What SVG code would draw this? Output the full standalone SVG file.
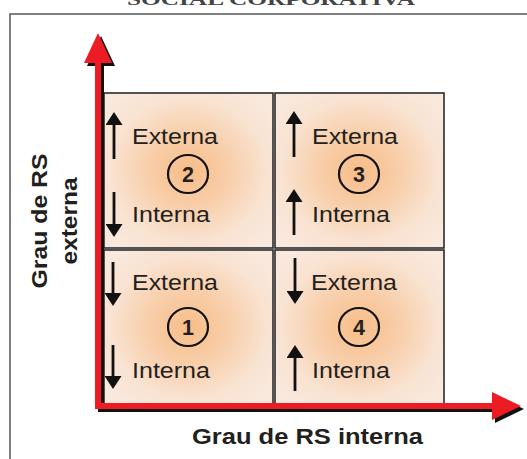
<svg xmlns="http://www.w3.org/2000/svg" width="527" height="459" viewBox="0 0 527 459">
<defs>
<radialGradient id="glow" cx="50%" cy="50%" r="62%">
<stop offset="0%" stop-color="#f7bd88"/>
<stop offset="40%" stop-color="#f8cfab"/>
<stop offset="75%" stop-color="#f9e3d2"/>
<stop offset="100%" stop-color="#f9e8dc"/>
</radialGradient>
<marker id="ah" viewBox="0 0 13 17" refX="6" refY="8.5" markerWidth="13" markerHeight="17" markerUnits="userSpaceOnUse" orient="auto">
<path d="M0,0 L13,8.5 L0,17 z" fill="#111"/>
</marker>
</defs>
<style>
.box{fill:url(#glow);stroke:#2b2b2b;stroke-width:1.6}
.lbl{font-family:"Liberation Sans",Arial,sans-serif;font-size:22.5px;fill:#231f20}
.num{font-family:"Liberation Sans",Arial,sans-serif;font-size:21.5px;font-weight:bold;fill:#231f20;text-anchor:middle}
.ring{fill:none;stroke:#111;stroke-width:2.2}
.arr{stroke:#111;stroke-width:2.8;marker-end:url(#ah)}
.axis{font-family:"Liberation Sans",Arial,sans-serif;font-size:22px;font-weight:bold;fill:#231f20}
</style>
<rect width="527" height="459" fill="#ffffff"/>
<text x="127" y="4.5" font-family="'Liberation Serif',serif" font-size="16" font-weight="bold" fill="#444" textLength="288" lengthAdjust="spacingAndGlyphs">SOCIAL CORPORATIVA</text>
<rect x="10" y="14" width="540" height="470" fill="none" stroke="#555" stroke-width="1.5"/>

<g id="q2">
<rect class="box" x="104" y="93" width="169" height="155"/>
<line class="arr" x1="114" y1="159" x2="114" y2="119"/>
<text class="lbl" x="132" y="144" textLength="86" lengthAdjust="spacingAndGlyphs">Externa</text>
<ellipse class="ring" cx="188" cy="174" rx="20" ry="19"/>
<text class="num" x="188" y="181.5">2</text>
<line class="arr" x1="114" y1="192" x2="114" y2="230"/>
<text class="lbl" x="132" y="222" textLength="78" lengthAdjust="spacingAndGlyphs">Interna</text>
</g>

<g id="q3">
<rect class="box" x="275" y="93" width="169" height="155"/>
<line class="arr" x1="294" y1="157" x2="294" y2="118"/>
<text class="lbl" x="312" y="144" textLength="86" lengthAdjust="spacingAndGlyphs">Externa</text>
<ellipse class="ring" cx="359" cy="174" rx="20" ry="19"/>
<text class="num" x="359" y="181.5">3</text>
<line class="arr" x1="294" y1="235" x2="294" y2="196"/>
<text class="lbl" x="312" y="222" textLength="78" lengthAdjust="spacingAndGlyphs">Interna</text>
</g>

<g id="q1">
<rect class="box" x="104" y="250" width="169" height="154"/>
<line class="arr" x1="113" y1="262" x2="113" y2="299"/>
<text class="lbl" x="132" y="290" textLength="86" lengthAdjust="spacingAndGlyphs">Externa</text>
<ellipse class="ring" cx="188" cy="327" rx="20" ry="19"/>
<text class="num" x="188" y="334.5">1</text>
<line class="arr" x1="113" y1="345" x2="113" y2="382"/>
<text class="lbl" x="132" y="378" textLength="78" lengthAdjust="spacingAndGlyphs">Interna</text>
</g>

<g id="q4">
<rect class="box" x="275" y="250" width="169" height="154"/>
<line class="arr" x1="295" y1="258" x2="295" y2="297"/>
<text class="lbl" x="311" y="290" textLength="86" lengthAdjust="spacingAndGlyphs">Externa</text>
<ellipse class="ring" cx="359" cy="327" rx="20" ry="19"/>
<text class="num" x="359" y="334.5">4</text>
<line class="arr" x1="295" y1="391" x2="295" y2="352"/>
<text class="lbl" x="312" y="378" textLength="78" lengthAdjust="spacingAndGlyphs">Interna</text>
</g>

<g id="connectors">
<g transform="translate(3,3)" fill="#111">
<path d="M98,60 V406 H494" fill="none" stroke="#111" stroke-width="6" stroke-linejoin="miter"/>
<polygon points="98,33 84,63 112,63"/>
<polygon points="521,406 492,392 492,420"/>
</g>
<path d="M98,60 V406 H494" fill="none" stroke="#ed1c24" stroke-width="6" stroke-linejoin="miter"/>
<polygon points="98,33 84,63 112,63" fill="#ed1c24"/>
<polygon points="521,406 492,392 492,420" fill="#ed1c24"/>
</g>

<g id="labels">
<text class="axis" x="192" y="444" textLength="231" lengthAdjust="spacingAndGlyphs">Grau de RS interna</text>
<g transform="translate(47,221) rotate(-90)">
<text class="axis" x="0" y="0" text-anchor="middle" textLength="135" lengthAdjust="spacingAndGlyphs">Grau de RS</text>
</g>
<g transform="translate(77,221) rotate(-90)">
<text class="axis" x="0" y="0" text-anchor="middle" textLength="87" lengthAdjust="spacingAndGlyphs">externa</text>
</g>
</g>
</svg>
